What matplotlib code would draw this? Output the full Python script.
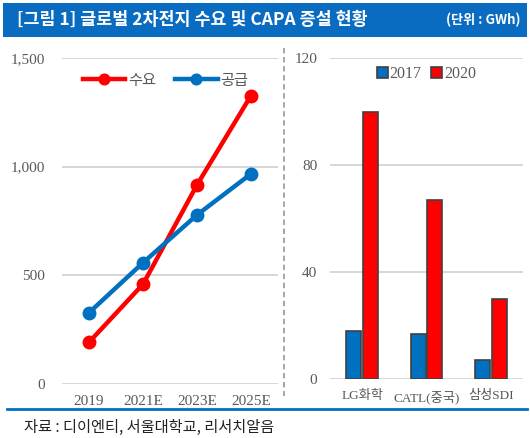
import matplotlib
matplotlib.use("Agg")
import matplotlib.pyplot as plt
from matplotlib.patches import Rectangle
from matplotlib.lines import Line2D
import numpy as np

plt.rcParams['font.family'] = ['Noto Sans CJK KR', 'DejaVu Sans']

# Data
years = ['2019', '2021E', '2023E', '2025E']
demand = [192, 459, 916, 1327]   # 수요
supply = [328, 558, 778, 967]    # 공급

companies = ['LG화학', 'CATL(중국)', '삼성SDI']
cap_2017 = [18.2, 16.8, 7.2]
cap_2020 = [100, 67, 30]

title = '[그림 1] 글로벌 2차전지 수요 및 CAPA 증설 현황'
unit = '(단위 : GWh)'
source = '자료 : 디이엔티, 서울대학교, 리서치알음'

RED = '#ff0000'
BLUE = '#0070c0'
GRID = '#d0d0d0'
TXT = '#595959'
SERIF = ['Liberation Serif', 'Noto Sans CJK KR']

W, H = 530, 438
fig = plt.figure(figsize=(W/100, H/100), dpi=100)

def fx(px): return px / W
def fy(py): return 1 - py / H

# Header bar
fig.patches.append(Rectangle((fx(3), fy(37)), fx(524), 34/H, transform=fig.transFigure,
                             facecolor='#0a6cc0', edgecolor='none'))
fig.text(fx(17), fy(20), title, color='white', fontsize=12.5, fontweight='bold',
         va='center', ha='left')
fig.text(fx(520), fy(20), unit, color='white', fontsize=9.5, fontweight='bold',
         va='center', ha='right')

# Left chart
ax1 = fig.add_axes([fx(62), fy(384), fx(278-62), (384-58)/H])
x = np.arange(len(years))
ax1.plot(x, demand, color=RED, lw=3.2, marker='o', ms=9, label='수요', zorder=3)
ax1.plot(x, supply, color=BLUE, lw=3.2, marker='o', ms=9, label='공급', zorder=3)
ax1.set_xlim(-0.5, 3.5)
ax1.set_ylim(0, 1500)
ax1.set_yticks([0, 500, 1000, 1500])
ax1.set_yticklabels(['0', '500', '1,000', '1,500'], family=SERIF, color=TXT, fontsize=11)
ax1.set_xticks(x)
ax1.set_xticklabels(years, family=SERIF, color=TXT, fontsize=11)
ax1.tick_params(axis='y', length=0, pad=12)
ax1.tick_params(axis='x', length=0, pad=8)
ax1.grid(axis='y', color=GRID, lw=1.2)
ax1.set_axisbelow(True)
for s in ax1.spines.values():
    s.set_visible(False)
ax1.legend(loc='upper center', bbox_to_anchor=(0.48, 1.0), ncol=2, frameon=False,
           fontsize=11, handlelength=2.8, columnspacing=1.2, handletextpad=0.2,
           labelcolor=TXT, markerscale=0.85)

# Right chart
ax2 = fig.add_axes([fx(330), fy(379.3), fx(523-330), (379.3-58.3)/H])
xc = np.arange(len(companies))
bw = 0.23
ax2.bar(xc - 0.13, cap_2017, width=bw, color=BLUE, edgecolor='#404040', lw=1.2, label='2017', zorder=3)
ax2.bar(xc + 0.13, cap_2020, width=bw, color=RED, edgecolor='#404040', lw=1.2, label='2020', zorder=3)
ax2.set_xlim(-0.5, 2.5)
ax2.set_ylim(0, 120)
ax2.set_yticks([0, 40, 80, 120])
ax2.set_yticklabels(['0', '40', '80', '120'], family=SERIF, color=TXT, fontsize=11)
ax2.set_xticks(xc)
ax2.set_xticklabels(companies, family=SERIF, color=TXT, fontsize=9.5)
ax2.tick_params(axis='y', length=0, pad=9)
ax2.tick_params(axis='x', length=0, pad=8)
ax2.grid(axis='y', color=GRID, lw=1.2)
ax2.set_axisbelow(True)
for s in ax2.spines.values():
    s.set_visible(False)
leg2 = ax2.legend(loc='upper center', bbox_to_anchor=(0.5, 1.02), ncol=2, frameon=False,
                  handlelength=0.7, handleheight=0.7, columnspacing=0.6,
                  handletextpad=0.1, prop={'family': SERIF, 'size': 11.5})
for t in leg2.get_texts():
    t.set_color(TXT)

# Dashed separator
fig.add_artist(Line2D([fx(284), fx(284)], [fy(48), fy(396)], transform=fig.transFigure,
                      color='#a0a0a0', lw=1.3, ls=(0, (3, 2))))
# Bottom rule
fig.add_artist(Line2D([fx(7), fx(527)], [fy(409), fy(409)], transform=fig.transFigure,
                      color=BLUE, lw=2))
fig.text(fx(24), fy(427), source, color='#222222', fontsize=11, va='center', ha='left')

fig.savefig('out.png', dpi=100)
